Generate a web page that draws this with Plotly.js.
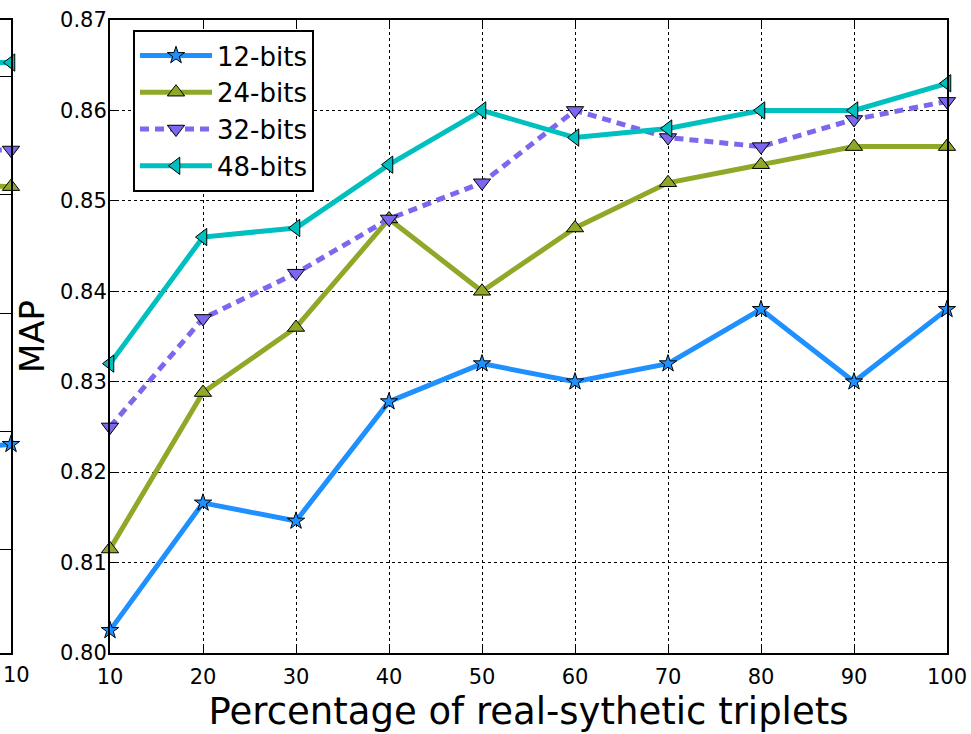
<!DOCTYPE html>
<html>
<head>
<meta charset="utf-8">
<script src="https://cdn.plot.ly/plotly-3.0.1.min.js"></script>
<style>html,body{margin:0;padding:0;background:#fff;}#chart{width:971px;height:734px;}</style>
</head>
<body>
<div id="chart"></div>
<script>
// Main chart data
const percentages = [10, 20, 30, 40, 50, 60, 70, 80, 90, 100];
const bits12 = [0.8025, 0.8166, 0.8146, 0.8278, 0.832, 0.830, 0.832, 0.838, 0.830, 0.838];
const bits24 = [0.8115, 0.8288, 0.836, 0.848, 0.840, 0.847, 0.852, 0.854, 0.856, 0.856];
const bits32 = [0.825, 0.837, 0.842, 0.848, 0.852, 0.860, 0.857, 0.856, 0.859, 0.861];
const bits48 = [0.832, 0.846, 0.847, 0.854, 0.860, 0.857, 0.858, 0.860, 0.860, 0.863];
const seriesNames = ["12-bits", "24-bits", "32-bits", "48-bits"];
const yTicks = [0.80, 0.81, 0.82, 0.83, 0.84, 0.85, 0.86, 0.87];

// Neighbouring (cropped) chart at the left edge: only its last points are visible
const leftX = [90, 100];
const left12 = [0.8082, 0.8089];
const left24 = [0.8310, 0.8307];
const left32 = [0.8338, 0.8338];
const left48 = [0.8412, 0.8412];

const colors = ["#1E90FF", "#8FA828", "#7B68EE", "#00BFBF"];
const symbols = ["star", "triangle-up", "triangle-down", "triangle-left"];
const dashes = ["solid", "solid", "9px,6px", "solid"];
const mainSeries = [bits12, bits24, bits32, bits48];
const leftSeries = [left12, left24, left32, left48];

const traces = [];
mainSeries.forEach((ys, i) => {
  traces.push({
    x: percentages, y: ys, name: seriesNames[i], type: "scatter", mode: "lines+markers",
    xaxis: "x", yaxis: "y", cliponaxis: false,
    line: {color: colors[i], width: 5, dash: dashes[i]},
    marker: {symbol: symbols[i], size: i === 0 ? 13 : 15, color: colors[i], line: {color: "#000", width: 1}}
  });
});
leftSeries.forEach((ys, i) => {
  traces.push({
    x: leftX, y: ys, name: seriesNames[i], type: "scatter", mode: "lines+markers",
    xaxis: "x2", yaxis: "y2", showlegend: false, cliponaxis: false,
    line: {color: colors[i], width: 5, dash: dashes[i]},
    marker: {symbol: symbols[i], size: i === 0 ? 13 : 15, color: colors[i], line: {color: "#000", width: 1}}
  });
});

const W = 971, PH = 633;
const gridStyle = {showgrid: true, gridcolor: "#000", gridwidth: 1, griddash: "3px,3px"};
const layout = {
  width: 971, height: 734,
  margin: {l: 0, r: 0, t: 20, b: 81},
  paper_bgcolor: "#fff", plot_bgcolor: "#fff",
  font: {family: "DejaVu Sans", color: "#000"},
  showlegend: true,
  legend: {
    x: 133 / W, y: 1 - 10 / PH, xanchor: "left", yanchor: "top",
    bgcolor: "#fff", bordercolor: "#000", borderwidth: 2,
    font: {family: "DejaVu Sans", size: 26, color: "#000"},
    tracegroupgap: 0, itemwidth: 72
  },
  xaxis: Object.assign({
    domain: [110 / W, 947 / W], range: [10, 100], anchor: "y",
    tickvals: percentages, ticktext: percentages.map(String),
    ticks: "inside", ticklen: 8, tickcolor: "#000", tickwidth: 1,
    showline: true, linecolor: "#000", linewidth: 2, mirror: "ticks",
    zeroline: false, tickfont: {family: "DejaVu Sans", size: 21, color: "#000"},
    ticklabelstandoff: 4,
    title: {text: "Percentage of real-sythetic triplets", font: {family: "DejaVu Sans", size: 37, color: "#000"}, standoff: 10}
  }, gridStyle),
  yaxis: Object.assign({
    domain: [0, 1], range: [0.80, 0.87], anchor: "x",
    tickvals: yTicks, ticktext: yTicks.map(v => v.toFixed(2)),
    ticks: "inside", ticklen: 8, tickcolor: "#000", tickwidth: 1,
    showline: true, linecolor: "#000", linewidth: 2, mirror: "ticks",
    zeroline: false, tickfont: {family: "DejaVu Sans", size: 21, color: "#000"},
    ticklabelstandoff: -3,
    title: {text: "MAP", font: {family: "DejaVu Sans", size: 34, color: "#000"}, standoff: 5}
  }, gridStyle),
  xaxis2: {
    domain: [0, 11 / W], range: [98.82, 100], anchor: "y2",
    showticklabels: false, showgrid: false, zeroline: false,
    showline: true, linecolor: "#000", linewidth: 2, mirror: true, ticks: ""
  },
  yaxis2: Object.assign({
    domain: [0, 1], range: [0.79124, 0.8448], anchor: "x2", side: "right",
    tickvals: [0.80, 0.81, 0.82, 0.83, 0.84], showticklabels: false,
    ticks: "inside", ticklen: 8, tickcolor: "#000",
    showline: true, linecolor: "#000", linewidth: 2, zeroline: false
  }, gridStyle),
  annotations: [{
    xref: "paper", yref: "paper", x: 1 / W, y: -22 / PH, xanchor: "left", yanchor: "middle",
    text: "10", showarrow: false, font: {family: "DejaVu Sans", size: 21, color: "#000"}
  }]
};

Plotly.newPlot("chart", traces, layout, {displayModeBar: false, staticPlot: true});
</script>
</body>
</html>
